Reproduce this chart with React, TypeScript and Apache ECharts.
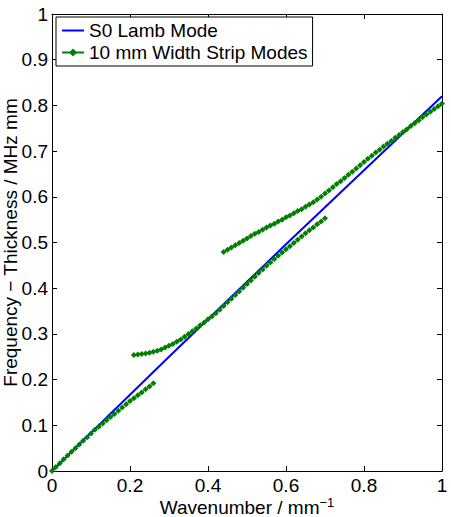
import React, { useEffect, useRef } from "react";
import * as echarts from "echarts";

// S0 Lamb mode (wavenumber / mm^-1, frequency-thickness / MHz mm)
const lambK = [0, 0.1, 0.2, 0.3, 0.4, 0.5, 0.6, 0.7, 0.8, 0.9, 1.0];
const lambF = [0, 0.084, 0.167, 0.25, 0.332, 0.414, 0.496, 0.577, 0.658, 0.739, 0.82];

// Strip mode branch A
const stripAK = [0, 0.01, 0.02, 0.03, 0.04, 0.05, 0.06, 0.07, 0.08, 0.09, 0.1, 0.11, 0.12, 0.13, 0.14, 0.15, 0.16, 0.17, 0.18, 0.19, 0.2, 0.21, 0.22, 0.23, 0.24, 0.25, 0.26];
const stripAF = [0, 0.0085, 0.017, 0.0255, 0.034, 0.042, 0.05, 0.058, 0.066, 0.074, 0.082, 0.09, 0.097, 0.104, 0.111, 0.118, 0.125, 0.132, 0.139, 0.146, 0.153, 0.159, 0.166, 0.172, 0.179, 0.185, 0.192];

// Strip mode branch B
const stripBK = [0.21, 0.22, 0.23, 0.24, 0.25, 0.26, 0.27, 0.28, 0.29, 0.3, 0.31, 0.32, 0.33, 0.34, 0.35, 0.36, 0.37, 0.38, 0.39, 0.4, 0.41, 0.42, 0.43, 0.44, 0.45, 0.46, 0.47, 0.48, 0.49, 0.5, 0.51, 0.52, 0.53, 0.54, 0.55, 0.56, 0.57, 0.58, 0.59, 0.6, 0.61, 0.62, 0.63, 0.64, 0.65, 0.66, 0.67, 0.68, 0.69, 0.7];
const stripBF = [0.254, 0.255, 0.256, 0.257, 0.259, 0.261, 0.263, 0.266, 0.27, 0.274, 0.278, 0.283, 0.288, 0.294, 0.3, 0.306, 0.312, 0.319, 0.325, 0.332, 0.338, 0.345, 0.353, 0.361, 0.369, 0.377, 0.385, 0.393, 0.401, 0.409, 0.417, 0.425, 0.433, 0.441, 0.449, 0.456, 0.464, 0.471, 0.478, 0.485, 0.492, 0.499, 0.506, 0.513, 0.52, 0.527, 0.533, 0.54, 0.546, 0.553];

// Strip mode branch C
const stripCK = [0.44, 0.45, 0.46, 0.47, 0.48, 0.49, 0.5, 0.51, 0.52, 0.53, 0.54, 0.55, 0.56, 0.57, 0.58, 0.59, 0.6, 0.61, 0.62, 0.63, 0.64, 0.65, 0.66, 0.67, 0.68, 0.69, 0.7, 0.71, 0.72, 0.73, 0.74, 0.75, 0.76, 0.77, 0.78, 0.79, 0.8, 0.81, 0.82, 0.83, 0.84, 0.85, 0.86, 0.87, 0.88, 0.89, 0.9, 0.91, 0.92, 0.93, 0.94, 0.95, 0.96, 0.97, 0.98, 0.99, 1.0];
const stripCF = [0.479, 0.484, 0.489, 0.494, 0.499, 0.504, 0.509, 0.514, 0.519, 0.523, 0.528, 0.533, 0.537, 0.541, 0.546, 0.55, 0.555, 0.559, 0.564, 0.569, 0.573, 0.578, 0.583, 0.588, 0.594, 0.6, 0.607, 0.614, 0.621, 0.628, 0.634, 0.641, 0.648, 0.655, 0.662, 0.669, 0.676, 0.683, 0.69, 0.697, 0.703, 0.71, 0.716, 0.722, 0.729, 0.735, 0.742, 0.748, 0.755, 0.761, 0.767, 0.774, 0.78, 0.786, 0.792, 0.798, 0.804];

const lambName = "S0 Lamb Mode";
const stripName = "10 mm Width Strip Modes";
const xTitle = "Wavenumber / mm";
const xTitleSup = "\u22121";
const yTitle = "Frequency \u2212 Thickness / MHz mm";

const FONT = "'Liberation Sans', Arial, sans-serif";
const zip = (a: number[], b: number[]) => a.map((v, i) => [v, b[i]]);

export default function App() {
  const ref = useRef<HTMLDivElement>(null);
  useEffect(() => {
    if (!ref.current) return;
    const chart = echarts.init(ref.current, undefined, { renderer: "svg" });
    const axisCommon = {
      type: "value" as const,
      min: 0,
      max: 1,
      axisLine: { show: true, onZero: false, lineStyle: { color: "#000", width: 1 } },
      axisTick: { show: true, inside: true, length: 5, lineStyle: { color: "#000" } },
      splitLine: { show: false },
    };
    const stripSeries = (k: number[], f: number[]) => ({
      type: "line",
      name: stripName,
      data: zip(k, f),
      xAxisIndex: 0,
      yAxisIndex: 0,
      symbol: "diamond",
      symbolSize: 6,
      showSymbol: true,
      itemStyle: { color: "#008000" },
      lineStyle: { color: "#008000", width: 1 },
      emphasis: { disabled: true },
    });
    chart.setOption({
      animation: false,
      backgroundColor: "#fff",
      textStyle: { fontFamily: FONT },
      grid: { left: 52, right: 9, top: 14, bottom: 46, containLabel: false, outerBoundsMode: "none" },
      legend: {
        data: [{ name: lambName, itemStyle: { opacity: 0 } }, { name: stripName }],
        orient: "vertical",
        left: 56,
        top: 17,
        padding: [4, 5, 4, 5],
        itemGap: 3,
        itemWidth: 22,
        itemHeight: 10,
        backgroundColor: "#fff",
        borderColor: "#000",
        borderWidth: 1,
        borderRadius: 0,
        textStyle: { fontSize: 19, color: "#000", fontFamily: FONT },
      },
      xAxis: [
        {
          ...axisCommon,
          position: "bottom",
          interval: 0.2,
          axisLabel: { fontSize: 19, color: "#000", margin: 5, fontFamily: FONT, formatter: (v: number) => String(+v.toFixed(1)) },
          name: `{n|${xTitle}}{s|${xTitleSup}}`,
          nameLocation: "middle",
          nameGap: 25,
          nameMoveOverlap: false,
          nameTextStyle: {
            rich: {
              n: { fontSize: 19, color: "#000", fontFamily: FONT, verticalAlign: "bottom", lineHeight: 21 },
              s: { fontSize: 13, color: "#000", fontFamily: FONT, verticalAlign: "top", lineHeight: 21 },
            },
          },
        },
        {
          ...axisCommon,
          position: "top",
          interval: 0.2,
          axisLabel: { show: false },
        },
      ],
      yAxis: [
        {
          ...axisCommon,
          position: "left",
          interval: 0.1,
          axisLabel: { fontSize: 19, color: "#000", margin: 4, fontFamily: FONT, formatter: (v: number) => String(+v.toFixed(1)) },
          name: yTitle,
          nameLocation: "middle",
          nameGap: 32,
          nameMoveOverlap: false,
          nameTextStyle: { fontSize: 19, color: "#000", fontFamily: FONT },
        },
        {
          ...axisCommon,
          position: "right",
          interval: 0.1,
          axisLabel: { show: false },
        },
      ],
      series: [
        {
          type: "line",
          name: lambName,
          data: zip(lambK, lambF),
          xAxisIndex: 0,
          yAxisIndex: 0,
          symbol: "none",
          itemStyle: { color: "#0000ff" },
          lineStyle: { color: "#0000ff", width: 2 },
          emphasis: { disabled: true },
        },
        stripSeries(stripAK, stripAF),
        stripSeries(stripBK, stripBF),
        stripSeries(stripCK, stripCF),
      ],
    });
    return () => chart.dispose();
  }, []);
  return <div ref={ref} style={{ width: 451, height: 517, position: "absolute", left: 0, top: 0 }} />;
}
